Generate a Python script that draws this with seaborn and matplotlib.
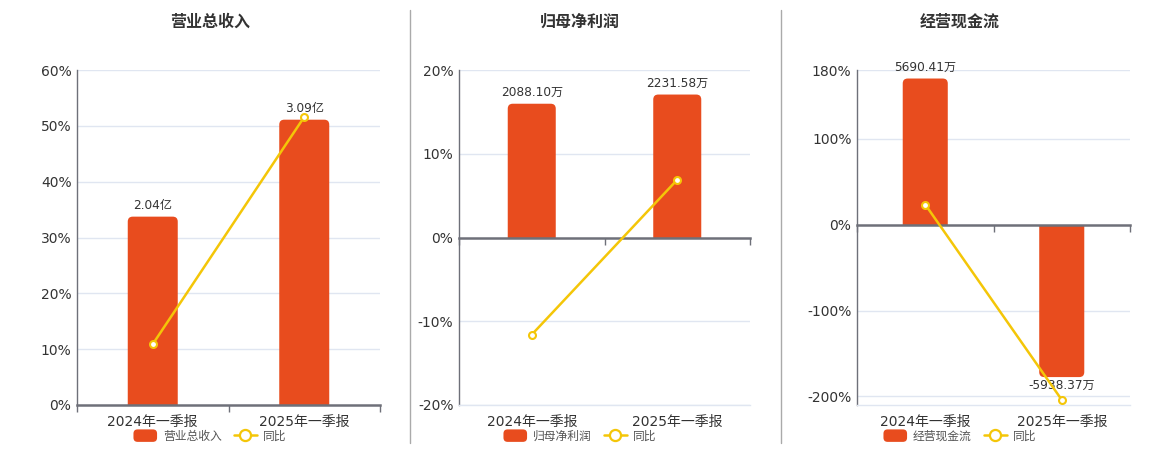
import numpy as np
import pandas as pd
import matplotlib
matplotlib.use("Agg")
import matplotlib.pyplot as plt
import seaborn as sns
from matplotlib.patches import FancyBboxPatch, Rectangle, Patch
from matplotlib.lines import Line2D
from matplotlib.legend_handler import HandlerPatch

# ---------------- data ----------------
categories = ['2024年一季报', '2025年一季报']
titles = ['营业总收入', '归母净利润', '经营现金流']

revenue = [2.04, 3.09]            # 亿
revenue_yoy = [10.9, 51.6]        # %
profit = [2088.10, 2231.58]       # 万
profit_yoy = [-11.6, 6.9]         # %
cashflow = [5690.41, -5938.37]    # 万
cashflow_yoy = [23.4, -204.0]     # %

units = ['亿', '万', '万']
pct_limits = [(0, 60), (-20, 20), (-210, 180)]
pct_ticks = [[0, 10, 20, 30, 40, 50, 60], [-20, -10, 0, 10, 20], [-200, -100, 0, 100, 180]]
bar_scale = [3.09 / 51.1, 2231.58 / 17.07, 5938.37 / 177.5]   # bar units per % on hidden axis

# ---------------- style ----------------
sns.set_theme(style='white')
plt.rcParams['font.family'] = ['DejaVu Sans', 'Noto Sans CJK SC']
plt.rcParams['axes.unicode_minus'] = False

BAR = '#E84C1E'
LINE = '#F4C608'
TXT = '#333333'
AXIS = '#6E7079'
GRID = '#E0E6F1'

W, H = 1160, 450
fig = plt.figure(figsize=(W / 100, H / 100), dpi=100)

axes_px = [(77, 303), (459, 291), (857, 273)]
title_cx = [210, 580, 960]
bars_all = [revenue, profit, cashflow]
yoy_all = [revenue_yoy, profit_yoy, cashflow_yoy]


def rounded_handle(legend, orig_handle, xdescent, ydescent, width, height, fontsize):
    return FancyBboxPatch((-xdescent, -ydescent), width, height,
                          boxstyle="round,pad=0,rounding_size=3",
                          facecolor=BAR, edgecolor='none')


for i in range(3):
    left, width = axes_px[i]
    pos = [left / W, 45 / H, width / W, 335 / H]
    axb = fig.add_axes(pos)
    ax = fig.add_axes(pos)
    ax.patch.set_visible(False)

    vals = bars_all[i]
    yoy = yoy_all[i]
    lo, hi = pct_limits[i]
    s = bar_scale[i]

    # ---- bars on hidden axis ----
    df = pd.DataFrame({'cat': categories, 'val': vals})
    sns.barplot(data=df, x='cat', y='val', color=BAR, width=0.33, ax=axb,
                saturation=1, zorder=2)
    axb.set_xlim(-0.5, 1.5)
    axb.set_ylim(lo * s, hi * s)
    axb.set_xlabel('')
    axb.set_ylabel('')
    axb.set_yticks([])
    for t in pct_ticks[i]:
        if t != 0:
            axb.axhline(t * s, color=GRID, lw=1, zorder=0)
    for sp in ['top', 'right', 'left']:
        axb.spines[sp].set_visible(False)
    axb.spines['bottom'].set_position(('data', 0))
    axb.spines['bottom'].set_color(AXIS)
    axb.spines['bottom'].set_linewidth(1.8)
    axb.spines['bottom'].set_zorder(3)
    axb.set_xticks([-0.5, 0.5, 1.5])
    axb.set_xticklabels([])
    axb.tick_params(axis='x', which='major', direction='out', length=5,
                    width=1, color=AXIS, bottom=True)

    # rounded bar ends
    px_x = width / 2.0
    px_y = 335 / ((hi - lo) * s)
    rad = 5
    r_x = rad / px_x
    r_y = rad / px_y
    for rect, v in zip(list(axb.patches), vals):
        x0 = rect.get_x()
        w = rect.get_width()
        rect.remove()
        if v >= 0:
            y0, hh = -r_y, v + r_y
            clip = Rectangle((x0 - 1, 0), w + 2, hi * s * 2, transform=axb.transData)
        else:
            y0, hh = v, -v + r_y
            clip = Rectangle((x0 - 1, lo * s * 2), w + 2, -lo * s * 2, transform=axb.transData)
        fb = FancyBboxPatch((x0, y0), w, hh,
                            boxstyle=f"round,pad=0,rounding_size={r_x}",
                            mutation_aspect=r_y / r_x,
                            facecolor=BAR, edgecolor='none', zorder=2)
        axb.add_patch(fb)
        fb.set_clip_path(clip)
        xc = x0 + w / 2
        if v >= 0:
            axb.annotate(f"{v:.2f}{units[i]}", (xc, v), xytext=(0, 3.5),
                         textcoords='offset points', ha='center', va='bottom',
                         fontsize=8.7, color=TXT, zorder=5)
        else:
            axb.annotate(f"{v:.2f}{units[i]}", (xc, v), xytext=(0, -1.5),
                         textcoords='offset points', ha='center', va='top',
                         fontsize=8.7, color=TXT, zorder=5)

    # ---- yoy line on visible percent axis ----
    dl = pd.DataFrame({'cat': categories, 'yoy': yoy})
    sns.lineplot(data=dl, x='cat', y='yoy', ax=ax, color=LINE, lw=1.8,
                 marker='o', markersize=5, markerfacecolor='white',
                 markeredgecolor=LINE, markeredgewidth=1.5, zorder=4)
    ax.set_xlim(-0.5, 1.5)
    ax.set_ylim(lo, hi)
    ax.set_yticks(pct_ticks[i])
    ax.set_yticklabels([f"{t}%" for t in pct_ticks[i]])
    ax.set_xticks([0, 1])
    ax.set_xticklabels(categories)
    ax.set_xlabel('')
    ax.set_ylabel('')
    ax.tick_params(axis='y', length=0, pad=4, labelsize=10, labelcolor=TXT)
    ax.tick_params(axis='x', length=0, pad=7, labelsize=10, labelcolor=TXT)
    for sp in ['top', 'right']:
        ax.spines[sp].set_visible(False)
    ax.spines['left'].set_color(AXIS)
    ax.spines['left'].set_linewidth(1)
    if lo == 0:
        ax.spines['bottom'].set_visible(False)
    else:
        ax.spines['bottom'].set_color(GRID)
        ax.spines['bottom'].set_linewidth(1)

    # title
    fig.text(title_cx[i] / W, 1 - 22 / H, titles[i], ha='center', va='center',
             fontsize=11.5, fontweight='bold', color=TXT)

    # legend
    bar_handle = Patch(facecolor=BAR, edgecolor='none')
    line_handle = Line2D([], [], color=LINE, lw=1.8, marker='o', markersize=8,
                         markerfacecolor='white', markeredgecolor=LINE, markeredgewidth=1.6)
    fig.legend([bar_handle, line_handle], [titles[i], '同比'], loc='center',
               bbox_to_anchor=(title_cx[i] / W, 1 - 436 / H), ncol=2, frameon=False,
               fontsize=8.5, handlelength=2.0, handleheight=1.25,
               columnspacing=1.0, handletextpad=0.5, labelcolor='#555555',
               borderaxespad=0, borderpad=0,
               handler_map={Patch: HandlerPatch(patch_func=rounded_handle)})

# separators
for xs in [410, 781]:
    fig.add_artist(Line2D([xs / W, xs / W], [1 - 10 / H, 1 - 443 / H],
                          color='#AAAAAA', lw=1))

fig.savefig('out.png', dpi=100)
